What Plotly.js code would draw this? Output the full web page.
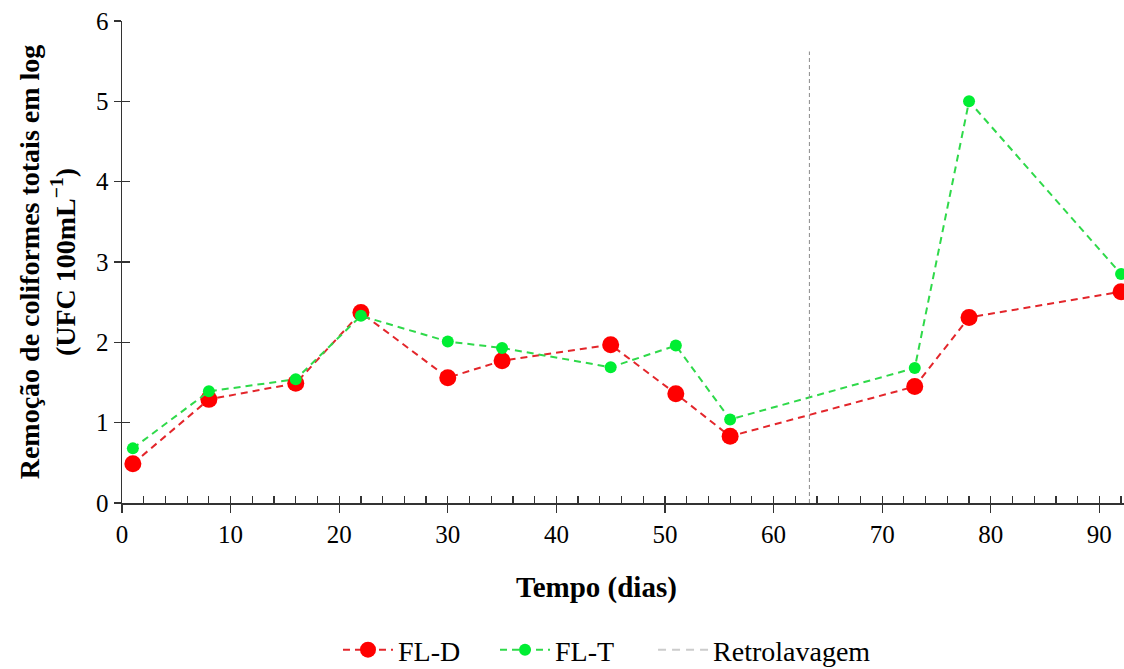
<!DOCTYPE html>
<html>
<head>
<meta charset="utf-8">
<script src="https://cdn.plot.ly/plotly-3.0.1.min.js"></script>
<style>html,body{margin:0;padding:0;background:#fff;}#chart{width:1124px;height:669px;}</style>
</head>
<body>
<div id="chart"></div>
<script>
var dias = [1, 8, 16, 22, 30, 35, 45, 51, 56, 73, 78, 92];
var flD = [0.49, 1.29, 1.49, 2.37, 1.56, 1.77, 1.97, 1.36, 0.83, 1.45, 2.31, 2.63];
var flT = [0.68, 1.39, 1.54, 2.33, 2.01, 1.93, 1.69, 1.96, 1.04, 1.68, 5.00, 2.85];
var retroX = [63.3, 63.3];
var retroY = [0, 5.62];
var xTickVals = [0, 10, 20, 30, 40, 50, 60, 70, 80, 90];
var yTickVals = [0, 1, 2, 3, 4, 5, 6];

var serif = "Liberation Serif, Times New Roman, serif";

var traces = [
  {x: dias, y: flD, name: 'FL-D', type: 'scatter', mode: 'lines+markers', legend: 'legend',
   line: {color: '#e3262b', width: 2, dash: '7px,5px'},
   marker: {color: '#ff0000', size: 17}, cliponaxis: false},
  {x: dias, y: flT, name: 'FL-T', type: 'scatter', mode: 'lines+markers', legend: 'legend2',
   line: {color: '#2fd94a', width: 2, dash: '7px,5px'},
   marker: {color: '#00ee33', size: 12}, cliponaxis: false},
  {x: retroX, y: retroY, name: 'Retrolavagem', type: 'scatter', mode: 'lines',
   line: {color: '#8a8a8a', width: 1, dash: '4px,3px'}, showlegend: false},
  {x: [null], y: [null], name: 'Retrolavagem', type: 'scatter', mode: 'lines', legend: 'legend3',
   line: {color: '#cccccc', width: 2, dash: '8px,6px'}, showlegend: true}
];

function leg(xc) {
  return {
    orientation: 'h', xref: 'container', yref: 'container', x: xc, xanchor: 'left',
    y: 0.0284, yanchor: 'middle', itemwidth: 50,
    font: {family: serif, size: 28, color: '#000'}, bgcolor: 'rgba(0,0,0,0)'
  };
}

var layout = {
  width: 1124, height: 669,
  margin: {l: 122, r: 0, t: 21, b: 166, pad: 0},
  paper_bgcolor: '#fff', plot_bgcolor: '#fff',
  font: {family: serif, color: '#000', size: 25},
  showlegend: true,
  xaxis: {
    range: [0, 92.27], tickvals: xTickVals, ticks: 'outside', ticklen: 8, tickwidth: 1.3,
    tickcolor: '#333', showline: true, linecolor: '#333', linewidth: 1.5, automargin: false,
    showgrid: false, zeroline: false, tickfont: {family: serif, size: 25, color: '#000'}
  },
  xaxis2: {
    overlaying: 'x', anchor: 'y', side: 'bottom', range: [0, 92.27], dtick: 2, tick0: 0,
    ticks: 'inside', ticklen: 7, tickwidth: 1.2, tickcolor: '#333', automargin: false,
    showticklabels: false, showgrid: false, zeroline: false, showline: false
  },
  yaxis: {
    range: [0, 6], tickvals: yTickVals, ticks: 'outside', ticklen: 7, tickwidth: 1.3,
    tickcolor: '#333', showline: true, linecolor: '#333', linewidth: 1.5, automargin: false,
    showgrid: false, zeroline: false, tickfont: {family: serif, size: 25, color: '#000'},
    title: {text: '<b>Remoção de coliformes totais em log<br>(UFC 100mL<sup>−1</sup>)</b>',
            font: {family: serif, size: 28, color: '#000'}, standoff: 12}
  },
  yaxis2: {
    overlaying: 'y', anchor: 'x', side: 'left', range: [0, 6], dtick: 1, tick0: 0,
    ticks: 'inside', ticklen: 8, tickwidth: 1.2, tickcolor: '#333', automargin: false,
    showticklabels: false, showgrid: false, zeroline: false, showline: false
  },
  annotations: [
    {text: '<b>Tempo (dias)</b>', xref: 'paper', yref: 'paper', x: 0.474, y: -0.176,
     xanchor: 'center', yanchor: 'middle', showarrow: false,
     font: {family: serif, size: 29, color: '#000'}}
  ],
  legend: leg(0.3007),
  legend2: leg(0.4404),
  legend3: leg(0.581)
};

var dummy2 = {x: [0], y: [0], xaxis: 'x2', yaxis: 'y2', showlegend: false, type: 'scatter', mode: 'markers', marker: {opacity: 0}, hoverinfo: 'skip'};
traces.push(dummy2);

Plotly.newPlot('chart', traces, layout, {displayModeBar: false, staticPlot: true});
</script>
</body>
</html>
